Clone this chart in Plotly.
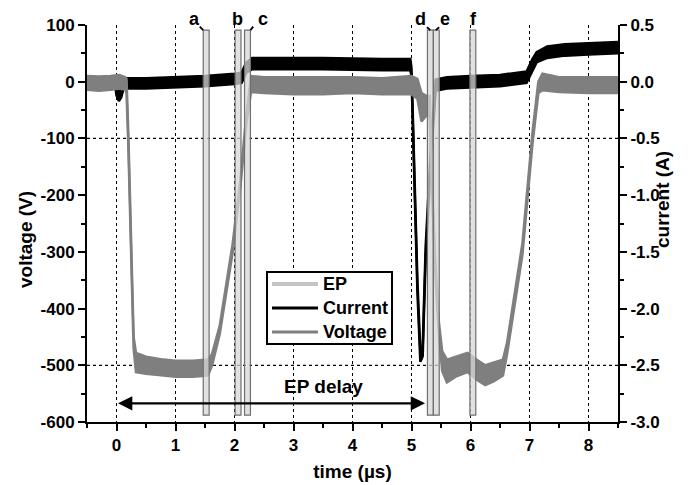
import plotly.graph_objects as go

# ---------------- data ----------------
time_ticks = [0, 1, 2, 3, 4, 5, 6, 7, 8]
volt_ticks = [100, 0, -100, -200, -300, -400, -500, -600]
volt_tick_text = ["100", "0", "-100", "-200", "-300", "-400", "-500", "-600"]
curr_ticks = [0.5, 0.0, -0.5, -1.0, -1.5, -2.0, -2.5, -3.0]
curr_tick_text = ["0.5", "0.0", "-0.5", "-1.0", "-1.5", "-2.0", "-2.5", "-3.0"]

# voltage trace (V): time, lower and upper edge of the noisy band
volt_t = [-0.50, -0.30, -0.10, 0.05, 0.15, 0.17, 0.20, 0.25, 0.29, 0.33, 0.50, 0.80, 1.00, 1.30,
          1.55, 1.62, 1.75, 1.97, 2.10, 2.20, 2.28, 2.50, 3.00, 3.50, 4.00, 4.50, 5.00, 5.10,
          5.17, 5.25, 5.31, 5.35, 5.40, 5.46, 5.52, 5.60, 5.75, 5.95, 6.10, 6.25, 6.40, 6.55,
          6.62, 6.88, 7.05, 7.15, 7.22, 7.50, 8.00, 8.50]
volt_lo = [-14, -16, -14, -12, -14, -20, -110, -330, -470, -512, -515, -518, -520, -520,
           -518, -500, -445, -300, -185, -75, -18, -20, -22, -22, -20, -22, -22, -30,
           -70, -60, -60, -200, -330, -440, -510, -530, -520, -512, -525, -535, -528, -518,
           -480, -305, -110, -20, -15, -18, -20, -20]
volt_hi = [10, 9, 10, 12, 8, 5, -90, -310, -450, -478, -485, -490, -492, -492,
           -490, -480, -430, -285, -170, -60, 10, 8, 8, 8, 8, 6, 10, 5,
           -20, -25, -25, -180, -310, -420, -475, -490, -485, -478, -490, -500, -495, -490,
           -460, -285, -90, 0, 14, 8, 8, 8]

# current trace (A): time, lower and upper edge of the noisy band
curr_t = [-0.50, -0.02, 0.00, 0.04, 0.08, 0.12, 0.50, 1.00, 1.50, 2.00, 2.12, 2.20, 2.30,
          2.50, 3.50, 4.50, 4.98, 5.00, 5.10, 5.15, 5.19, 5.24, 5.33, 5.41, 5.60, 6.00,
          6.50, 6.95, 7.05, 7.12, 7.30, 7.60, 8.00, 8.50]
curr_lo = [-0.05, -0.05, -0.12, -0.17, -0.14, -0.06, -0.06, -0.05, -0.04, -0.02, -0.01, 0.08, 0.11,
           0.11, 0.11, 0.10, 0.10, 0.05, -1.85, -2.47, -2.42, -1.55, -0.67, -0.08, -0.06, -0.05,
           -0.04, -0.01, 0.10, 0.17, 0.21, 0.23, 0.24, 0.25]
curr_hi = [0.04, 0.04, -0.06, -0.08, -0.06, 0.03, 0.03, 0.04, 0.05, 0.07, 0.08, 0.17, 0.21,
           0.21, 0.21, 0.20, 0.20, 0.12, -1.75, -2.38, -2.33, -1.45, -0.57, 0.02, 0.04, 0.05,
           0.06, 0.09, 0.20, 0.26, 0.31, 0.33, 0.34, 0.35]

# EP windows (µs) and their labels
ep_labels = ["a", "b", "c", "d", "e", "f"]
ep_start = [1.47, 2.01, 2.17, 5.27, 5.37, 5.99]
ep_end = [1.57, 2.11, 2.27, 5.37, 5.47, 6.09]
ep_top = 91
ep_bottom = -588
label_t = [1.33, 2.05, 2.49, 5.15, 5.56, 6.05]
# hooks: tip time on the window top and pixel offset of the hook start
hook_t = [1.47, 2.27, 5.32, 5.41]
hook_dx = [-5, 4, -5, 5]
hook_dy = [-5, -5, -4, -4]

delay_start = 0.0
delay_end = 5.23
delay_v = -567
delay_label_t = 3.5
delay_label_v = -538
ref_levels = [-100, -500]

legend_names = ["EP", "Current", "Voltage"]
legend_colors = ["#c4c4c4", "black", "#7f7f7f"]
legend_widths = [4, 3, 3]

VGRAY = "#7f7f7f"
EPFILL = "rgba(215,215,215,0.75)"
FONT = "Liberation Sans, Arial, sans-serif"

# ---------------- geometry (page has an 8px body margin) ----------------
W, H = 692, 477
L, R, T, B = 79, 82, 17, 63
PW, PH = W - L - R, H - T - B
OFF = 8


def px(xp):
    return (xp - OFF - L) / PW


def py(yp):
    return (H - B - (yp - OFF)) / PH


fig = go.Figure()

# current (main y axis, right side)
fig.add_trace(go.Scatter(x=curr_t, y=curr_lo, mode="lines", line=dict(color="black", width=2.5),
                         yaxis="y", showlegend=False, hoverinfo="skip"))
fig.add_trace(go.Scatter(x=curr_t, y=curr_hi, mode="lines", line=dict(color="black", width=2.5),
                         fill="tonexty", fillcolor="black", yaxis="y", showlegend=False, hoverinfo="skip"))
# voltage (overlay axis, left side, drawn on top)
fig.add_trace(go.Scatter(x=volt_t, y=volt_lo, mode="lines", line=dict(color=VGRAY, width=2.5),
                         yaxis="y2", showlegend=False, hoverinfo="skip"))
fig.add_trace(go.Scatter(x=volt_t, y=volt_hi, mode="lines", line=dict(color=VGRAY, width=2.5),
                         fill="tonexty", fillcolor=VGRAY, yaxis="y2", showlegend=False, hoverinfo="skip"))

shapes = []
for lv in ref_levels:
    shapes.append(dict(type="line", xref="paper", yref="y2", x0=0, x1=1, y0=lv, y1=lv,
                       line=dict(color="black", width=1.2, dash="dot"), layer="below"))
for s, e in zip(ep_start, ep_end):
    shapes.append(dict(type="rect", xref="x", yref="y2", x0=s, x1=e, y0=ep_bottom, y1=ep_top,
                       fillcolor=EPFILL, line=dict(color="#6f6f6f", width=1.2), layer="above"))

annotations = []
for lab, t in zip(ep_labels, label_t):
    annotations.append(dict(x=t, y=ep_top, xref="x", yref="y2", text="<b>%s</b>" % lab,
                            showarrow=False, yshift=11, xanchor="center", yanchor="middle",
                            borderpad=0, font=dict(size=18, family=FONT, color="black")))
for t, dx, dy in zip(hook_t, hook_dx, hook_dy):
    annotations.append(dict(x=t, y=ep_top, xref="x", yref="y2", text="", showarrow=True,
                            ax=dx, ay=dy, arrowhead=0, arrowwidth=1.8, arrowcolor="black",
                            standoff=0))
annotations.append(dict(x=delay_end, y=delay_v, ax=delay_start, ay=delay_v, xref="x", yref="y2",
                        axref="x", ayref="y2", text="", showarrow=True, arrowhead=2, startarrowhead=2,
                        arrowside="end+start", arrowwidth=2.2, arrowsize=1.3, startarrowsize=1.3,
                        arrowcolor="black", standoff=0, startstandoff=0))
annotations.append(dict(x=delay_label_t, y=delay_label_v, xref="x", yref="y2", text="<b>EP delay</b>",
                        showarrow=False, font=dict(size=19, family=FONT, color="black")))
annotations.append(dict(x=px(25), y=py(240), xref="paper", yref="paper", text="<b>voltage (V)</b>",
                        xanchor="center", yanchor="middle",
                        showarrow=False, textangle=-90, font=dict(size=19, family=FONT, color="black")))
annotations.append(dict(x=px(662), y=py(200), xref="paper", yref="paper", text="<b>current (A)</b>",
                        xanchor="center", yanchor="middle",
                        showarrow=False, textangle=-90, font=dict(size=19, family=FONT, color="black")))

# hand-built legend box
shapes.append(dict(type="rect", xref="paper", yref="paper", x0=px(267), x1=px(392), y0=py(344), y1=py(272),
                   fillcolor="white", line=dict(color="black", width=2), layer="above"))
for i, (nm, col, wd) in enumerate(zip(legend_names, legend_colors, legend_widths)):
    yc = 284 + 24 * i
    shapes.append(dict(type="line", xref="paper", yref="paper", x0=px(272), x1=px(318),
                       y0=py(yc), y1=py(yc), line=dict(color=col, width=wd), layer="above"))
    annotations.append(dict(x=px(321), y=py(yc), xref="paper", yref="paper", text="<b>%s</b>" % nm,
                            xanchor="left", yanchor="middle", showarrow=False,
                            font=dict(size=18, family=FONT, color="black")))

axis_common = dict(showline=True, linecolor="black", linewidth=2, ticks="outside", ticklen=7,
                   tickwidth=2, tickcolor="black", zeroline=False, automargin=False,
                   tickfont=dict(size=17, family=FONT, color="black"))

fig.update_layout(
    width=W, height=H, margin=dict(l=L, r=R, t=T, b=B),
    plot_bgcolor="white", paper_bgcolor="white",
    font=dict(family=FONT, color="black", size=17, weight="bold"),
    showlegend=False,
    xaxis=dict(range=[-0.5, 8.5], tickmode="array", tickvals=time_ticks,
               showgrid=True, gridcolor="black", griddash="dot", gridwidth=1,
               minor=dict(ticks="outside", ticklen=4, tickwidth=2, tickcolor="black",
                          dtick=0.5, tick0=0, showgrid=False),
               title=dict(text="<b>time (µs)</b>", font=dict(size=19, family=FONT), standoff=10),
               **axis_common),
    yaxis=dict(range=[-3.0, 0.5], side="right", tickmode="array", tickvals=curr_ticks,
               ticktext=curr_tick_text, showgrid=False,
               minor=dict(ticks="outside", ticklen=4, tickwidth=2, tickcolor="black",
                          dtick=0.25, tick0=0),
               **axis_common),
    yaxis2=dict(range=[-600, 100], side="left", overlaying="y", tickmode="array",
                tickvals=volt_ticks, ticktext=volt_tick_text, showgrid=False,
                minor=dict(ticks="outside", ticklen=4, tickwidth=2, tickcolor="black",
                           dtick=50, tick0=0),
                **axis_common),
    shapes=shapes, annotations=annotations,
)

fig.write_html("out.html")
